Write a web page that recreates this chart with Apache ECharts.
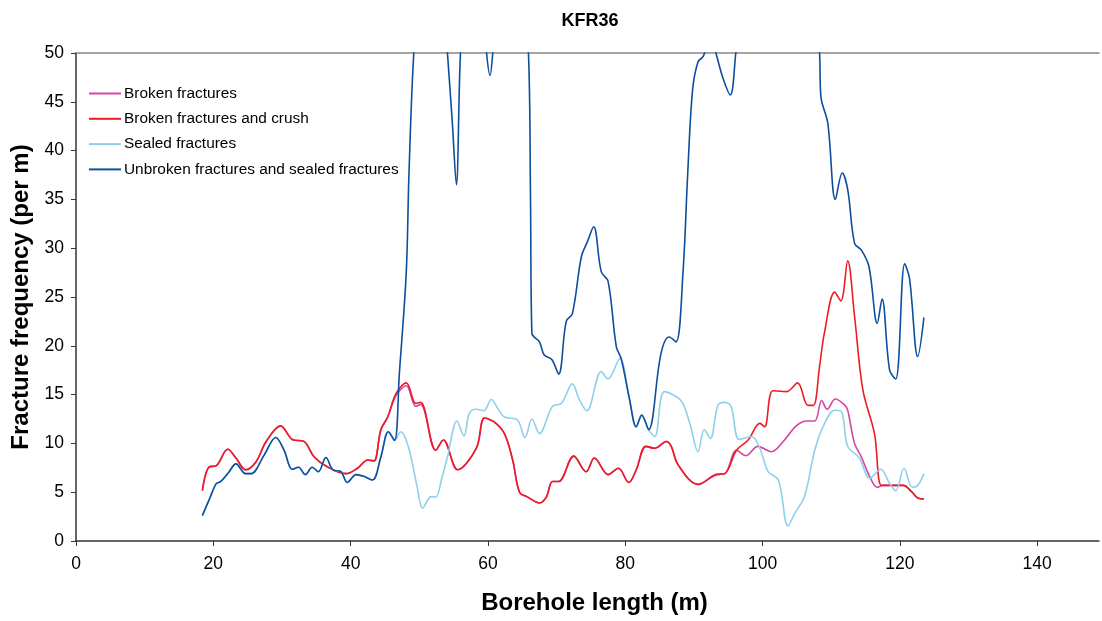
<!DOCTYPE html>
<html>
<head>
<meta charset="utf-8">
<script src="https://cdn.jsdelivr.net/npm/echarts@6/dist/echarts.min.js"></script>
<style>html,body{margin:0;padding:0;background:#fff}#c{width:1102px;height:621px}</style>
</head>
<body>
<div id="c"></div>
<script>
var titleText = 'KFR36';
var seriesNames = ['Broken fractures', 'Broken fractures and crush', 'Sealed fractures', 'Unbroken fractures and sealed fractures'];
var xTicks = [0, 20, 40, 60, 80, 100, 120, 140];
var yTicks = [0, 5, 10, 15, 20, 25, 30, 35, 40, 45, 50];

var crushData = [[18.4,5.15],[19.4,7.6],[20.4,7.7],[22.1,9.4],[23.3,8.5],[24.7,7.3],[26.2,8.1],[27.7,10.2],[29.8,11.8],[31.5,10.4],[33.2,10.2],[34.7,8.6],[36.6,7.6],[39.3,6.9],[41.0,7.45],[42.5,8.3],[43.4,8.2],[44.4,11.4],[45.4,12.7],[46.6,15.1],[48.1,16.2],[49.5,14.1],[50.2,14.2],[52.4,9.3],[53.5,10.35],[55.6,7.3],[58.3,9.5],[59.5,12.6],[60.9,12.2],[62.4,11.0],[63.6,8.3],[64.6,5.0],[65.8,4.5],[67.5,3.9],[68.5,4.5],[69.4,6.1],[70.3,6.1],[72.5,8.7],[74.3,7.1],[75.5,8.5],[77.5,6.8],[79.0,7.45],[80.5,6.0],[81.6,7.3],[83.0,9.7],[84.3,9.5],[86.0,10.2],[86.7,9.7],[87.7,7.8],[90.6,5.8],[93.2,6.8],[94.5,6.9],[96.2,9.3],[97.9,10.35],[99.6,12.05],[100.3,11.7],[101.5,15.4],[103.5,15.3],[105.1,16.2],[106.6,13.9],[107.4,13.9],[108.3,17.9],[109.0,21.3],[110.5,25.5],[111.4,24.6],[112.4,28.7],[113.4,23.0],[114.6,15.5],[116.3,11.0],[117.3,5.7],[118.5,5.7],[120.5,5.7],[121.7,5.05],[122.6,4.4],[123.5,4.3]];

var brokenData = [[18.4,5.15],[19.4,7.6],[20.4,7.7],[22.1,9.4],[23.3,8.5],[24.7,7.3],[26.2,8.1],[27.7,10.2],[29.8,11.8],[31.5,10.4],[33.2,10.2],[34.7,8.6],[36.6,7.6],[39.3,6.9],[41.0,7.45],[42.5,8.3],[43.4,8.2],[44.4,11.4],[45.4,12.7],[46.6,14.9],[48.1,15.9],[49.5,13.8],[50.2,14.0],[52.4,9.3],[53.5,10.35],[55.6,7.3],[58.3,9.5],[59.5,12.6],[60.9,12.2],[62.4,11.0],[63.6,8.3],[64.6,5.0],[65.8,4.5],[67.5,3.9],[68.5,4.5],[69.4,6.1],[70.3,6.1],[72.5,8.7],[74.3,7.1],[75.5,8.5],[77.5,6.8],[79.0,7.45],[80.5,6.0],[81.6,7.3],[83.0,9.7],[84.3,9.5],[86.0,10.2],[86.7,9.7],[87.7,7.8],[90.6,5.8],[93.2,6.8],[94.5,6.9],[96.2,9.3],[97.6,8.75],[99.3,9.7],[101.3,9.15],[103.0,10.2],[104.9,11.8],[106.4,12.3],[107.6,12.3],[108.6,14.4],[109.4,13.5],[110.6,14.55],[112.0,13.9],[112.4,13.4],[113.4,10.0],[114.4,8.6],[115.6,6.6],[116.7,5.5],[117.5,5.7],[118.5,5.7],[120.5,5.7],[121.7,5.05],[122.6,4.4],[123.5,4.3]];

var sealedData = [[18.4,2.6],[19.5,4.4],[20.4,5.85],[21.1,6.1],[22.2,7.0],[23.3,7.9],[24.7,6.9],[25.5,6.9],[27.4,8.8],[29.1,10.6],[30.3,9.3],[31.5,7.35],[32.4,7.55],[33.4,6.8],[34.4,7.55],[35.3,7.1],[36.4,8.55],[37.4,7.3],[38.6,7.1],[39.5,6.0],[40.8,6.8],[42.0,6.6],[43.2,6.25],[44.4,8.6],[45.5,11.2],[46.4,10.3],[47.3,11.2],[48.0,10.5],[48.8,8.6],[49.7,5.5],[50.5,3.35],[51.7,4.55],[52.4,4.5],[53.3,6.5],[54.1,8.6],[55.5,12.3],[56.5,10.75],[57.3,13.1],[58.3,13.5],[59.4,13.35],[60.5,14.5],[61.5,13.5],[62.4,12.7],[64.3,12.4],[65.4,10.6],[66.4,12.5],[67.5,11.0],[69.4,13.8],[70.7,14.1],[72.3,16.1],[73.3,14.5],[74.4,13.35],[76.5,17.35],[77.5,16.6],[79.2,18.7],[80.6,14.6],[81.6,11.7],[82.4,12.9],[83.4,11.4],[84.3,10.7],[85.7,15.3],[88.1,14.4],[89.4,12.05],[90.6,9.15],[91.5,11.4],[92.4,10.5],[93.5,13.9],[94.5,14.2],[95.4,13.8],[96.6,10.4],[98.4,10.7],[99.6,9.5],[100.8,7.1],[102.3,6.25],[103.7,1.55],[104.7,2.85],[106.1,4.55],[107.6,9.3],[108.8,11.7],[110.5,13.4],[111.5,13.25],[112.4,9.7],[114.1,8.5],[115.6,6.4],[117.2,7.35],[118.5,5.9],[119.4,5.15],[120.6,7.45],[121.8,5.5],[122.6,5.7],[123.5,6.9]];

var unbrokenData = [[18.4,2.6],[19.5,4.4],[20.4,5.85],[21.1,6.1],[22.2,7.0],[23.3,7.9],[24.7,6.9],[25.5,6.9],[27.4,8.8],[29.1,10.6],[30.3,9.3],[31.5,7.35],[32.4,7.55],[33.4,6.8],[34.4,7.55],[35.3,7.1],[36.4,8.55],[37.4,7.3],[38.6,7.1],[39.5,6.0],[40.8,6.8],[42.0,6.6],[43.2,6.25],[44.4,8.6],[45.5,11.2],[46.4,10.3],[47.1,17.2],[48.1,27.5],[48.5,37.7],[49.2,50],[50.2,58],[52.3,60],[53.5,56],[54.1,50],[54.8,43],[55.4,36.5],[56.0,50],[56.8,57],[58.3,58],[59.3,55],[59.8,50],[60.3,47.7],[60.7,50],[61.3,56],[63.0,58],[65.0,57],[65.9,50],[66.2,35],[66.4,21.3],[67.5,20.4],[68.2,19.05],[69.3,18.6],[70.3,17.1],[71.4,22.5],[72.3,23.3],[73.6,29.1],[74.5,30.7],[75.4,32.2],[76.5,27.6],[77.5,26.6],[78.7,19.9],[79.4,18.7],[80.6,14.6],[81.6,11.7],[82.4,12.9],[83.4,11.4],[85.2,19.2],[86.4,20.9],[87.4,20.4],[88.4,27.4],[89.1,37.7],[89.8,46.2],[90.6,49.1],[91.4,49.7],[92.3,52],[93.2,50],[94.2,47.5],[95.3,45.7],[96.1,50],[97.0,56],[100.0,60],[105.0,60],[107.6,56],[108.3,50],[108.5,45.5],[109.5,42.8],[110.6,35.0],[111.6,37.7],[112.4,36.0],[113.4,30.5],[114.4,29.8],[115.5,28.1],[116.7,22.3],[117.4,24.8],[118.5,17.5],[119.4,16.6],[120.7,28.4],[121.4,26.9],[122.6,18.9],[123.5,22.9]];

var colors = ['#d4479f', '#ec1c24', '#8fd0ea', '#0d4f9e'];
var FONT = 'Liberation Sans, Arial, sans-serif';

var chart = echarts.init(document.getElementById('c'), null, {renderer: 'canvas'});
function mk(name, data, color, z) {
  return {
    name: name, type: 'line', data: data, smooth: 0.35, showSymbol: false, symbol: 'none',
    clip: true, z: z, lineStyle: {color: color, width: 1.6}, itemStyle: {color: color}
  };
}
chart.setOption({
  animation: false,
  backgroundColor: '#fff',
  title: {text: titleText, left: 585, top: 7, textAlign: 'center',
    textStyle: {fontFamily: FONT, fontSize: 18, fontWeight: 'bold', color: '#000'}},
  legend: {
    orient: 'vertical', left: 84, top: 81, itemWidth: 32, itemHeight: 2, itemGap: 10.3,
    icon: 'rect', data: seriesNames,
    textStyle: {fontFamily: FONT, fontSize: 15.4, color: '#000', padding: [0,0,0,-2]}
  },
  grid: {left: 76, top: 53, right: 3, bottom: 80, containLabel: false},
  xAxis: [{
    type: 'value', min: 0, max: 149, interval: 20,
    name: 'Borehole length (m)', nameLocation: 'middle', nameGap: 50,
    nameTextStyle: {fontFamily: FONT, fontSize: 24, fontWeight: 'bold', color: '#000', padding: [0,0,0,14]},
    axisLine: {show: true, lineStyle: {color: '#333', width: 1.5}},
    axisTick: {show: true, length: 5, lineStyle: {color: '#333'}},
    axisLabel: {fontFamily: FONT, fontSize: 17.5, color: '#000', margin: 14, showMaxLabel: false,
      formatter: function (v) { return xTicks.indexOf(v) >= 0 ? String(v) : ''; }},
    splitLine: {show: false}
  }, {
    type: 'value', min: 0, max: 149, position: 'top',
    axisLine: {show: true, lineStyle: {color: '#888', width: 1.5}},
    axisTick: {show: false}, axisLabel: {show: false}, splitLine: {show: false}
  }],
  yAxis: {
    type: 'value', min: 0, max: 50, interval: 5,
    name: 'Fracture frequency (per m)', nameLocation: 'middle', nameGap: 40, nameRotate: 90,
    nameTextStyle: {fontFamily: FONT, fontSize: 24, fontWeight: 'bold', color: '#000'},
    axisLine: {show: true, lineStyle: {color: '#333', width: 1.5}},
    axisTick: {show: true, length: 5, lineStyle: {color: '#333'}},
    axisLabel: {fontFamily: FONT, fontSize: 17.5, color: '#000', margin: 12,
      formatter: function (v) { return yTicks.indexOf(v) >= 0 ? String(v) : ''; }},
    splitLine: {show: false}
  },
  series: [
    mk(seriesNames[0], brokenData, colors[0], 2),
    mk(seriesNames[1], crushData, colors[1], 3),
    mk(seriesNames[2], sealedData, colors[2], 4),
    mk(seriesNames[3], unbrokenData, colors[3], 5)
  ]
});
</script>
</body>
</html>
